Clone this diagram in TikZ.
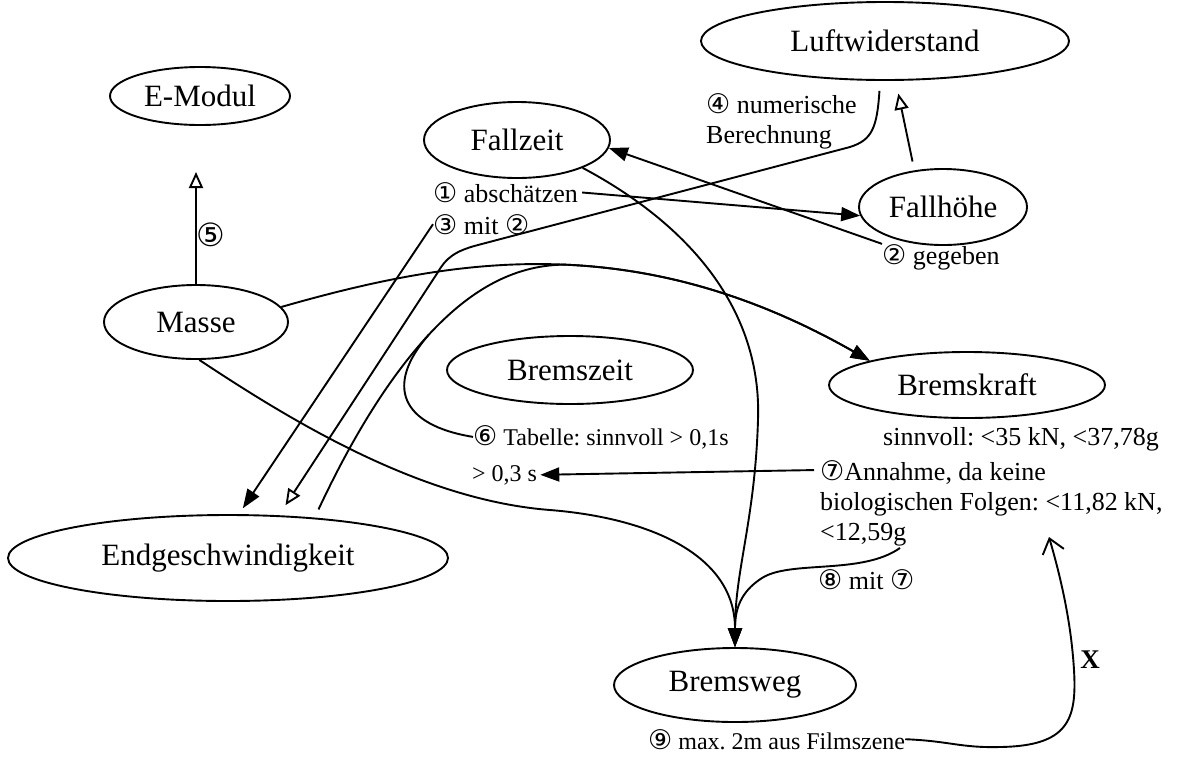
\documentclass[tikz,border=0pt]{standalone}
\usepackage{fontspec}
\setmainfont{Liberation Serif}
\newfontfamily\circf{DejaVu Sans}
\usetikzlibrary{arrows.meta,shapes.geometric,calc}
\newcommand\cnum[1]{{\fontsize{27}{27}\selectfont\circf #1}}
\frenchspacing
\begin{document}
\begin{tikzpicture}[x=1pt,y=-1pt,
  concept/.style={draw, ellipse, line width=1.9pt, inner sep=0pt, font=\fontsize{31}{36}\selectfont},
  note/.style={inner sep=0pt, font=\fontsize{26}{30}\selectfont, align=left},
  smallnote/.style={note, font=\fontsize{24}{30}\selectfont},
  conn/.style={line width=1.9pt},
  fa/.style={conn, -{Triangle[length=19pt,width=14pt]}},
  oa/.style={conn, -{Triangle[open,length=16pt,width=14pt]}},
  ba/.style={conn, -{Straight Barb[length=14pt,width=22pt]}}
]
\fill[white] (0,0) rectangle (1202,756);
\useasboundingbox (0,0) rectangle (1202,756);

% concepts
\node[concept, minimum width=368pt, minimum height=78pt] (luft) at (885,41) {Luftwiderstand};
\node[concept, minimum width=180pt, minimum height=58pt] (emodul) at (200,96) {E-Modul};
\node[concept, minimum width=186pt, minimum height=76pt] (fallzeit) at (517,140) {Fallzeit};
\node[concept, minimum width=168pt, minimum height=76pt] (fallhoehe) at (943,207) {Fallhöhe};
\node[concept, minimum width=184pt, minimum height=74pt] (masse) at (196,322) {Masse};
\node[concept, minimum width=246pt, minimum height=68pt] (bremszeit) at (570,370) {Bremszeit};
\node[concept, minimum width=276pt, minimum height=66pt] (bremskraft) at (967,385) {Bremskraft};
\node[concept, minimum width=440pt, minimum height=86pt] (endg) at (228,558) {Endgeschwindigkeit};
\node[concept, minimum width=242pt, minimum height=74pt] (bremsweg) at (735,685) {Bremsweg};

% notes
\node[note, anchor=north west] (t4) at (706,93) {\cnum{④} numerische\\Berechnung};
\node[note, anchor=base west] (t1) at (433,202) {\cnum{①} abschätzen};
\node[note, anchor=base west] (t3) at (433,234) {\cnum{③} mit \cnum{②}};
\node[note, anchor=base west] (t2) at (882,264) {\cnum{②} gegeben};
\node[inner sep=0pt, font=\fontsize{32}{32}\selectfont\circf] (t5) at (211,235) {⑤};
\node[smallnote, anchor=base west] (t6) at (473,445) {\cnum{⑥} Tabelle: sinnvoll > 0,1s};
\node[smallnote, anchor=base west] (t03) at (472,481) {> 0,3 s};
\node[note, anchor=base west] (tsinn) at (883,445) {sinnvoll: <35 kN, <37,78g};
\node[note, anchor=north west] (t7) at (820,460) {\cnum{⑦}Annahme, da keine\\biologischen Folgen: <11,82 kN,\\<12,59g};
\node[note, anchor=base west] (t8) at (818,589) {\cnum{⑧} mit \cnum{⑦}};
\node[smallnote, anchor=base west] (t9) at (648,749) {\cnum{⑨} max. 2m aus Filmszene};
\node[inner sep=0pt, font=\fontsize{27}{27}\selectfont\bfseries] (tx) at (1090,660) {X};

% coordinates
\coordinate (e5) at (196,172);
\coordinate (mb) at (564,264.6);
\coordinate (m6) at (428.4,335.1);
\coordinate (xtip) at (1049,537);

% connectors
\draw[oa] (masse.north) -- (e5);
\draw[fa, shorten <=4pt] (t1.east) -- (fallhoehe.186);
\draw[fa] (t2.north west) -- (fallzeit.355);
\draw[oa, shorten <=9pt, shorten >=13pt] (fallhoehe.128) -- (luft.-75);
\draw[fa] (fallzeit.337) .. controls (690,225) and (762,310) .. (758,420) .. controls (755,520) and (735,570) .. (bremsweg.north);
\draw[fa] (masse.-85) .. controls (290,420) and (420,500) .. (550,510) .. controls (650,518) and (735,555) .. (bremsweg.north);
\draw[fa] ($(t7.south west)+(80,2)$) .. controls (862,575) and (790,560) .. (762,578) .. controls (740,592) and (735,610) .. (bremsweg.north);
\draw[fa] (masse.10) .. controls (384,277.5) and (472,260.75) .. (mb) .. controls (655.5,268.5) and (751,293) .. (bremskraft.166);
\draw[fa, shorten <=9pt] (endg.25) .. controls (351.5,439) and (388.25,378.5) .. (m6) .. controls (468.5,291.65) and (512,265.3) .. (mb) .. controls (655.5,268.5) and (751,293) .. (bremskraft.166);
\draw[conn] (t6.west) .. controls (400,425) and (385,385) .. (m6);
\draw[fa, shorten >=7pt] (t3.west) -- (endg.76);
\draw[oa, shorten <=10pt, shorten >=12pt] (luft.-97) .. controls (877,128) and (872,140) .. (850,147) -- (478,245) .. controls (455,251) and (446,258) .. (438,272) -- (endg.40);
\draw[fa, shorten <=3pt, shorten >=3pt] ($(t7.north west)+(-3,10)$) -- (t03.east);
\draw[ba] (t9.east) .. controls (950,741) and (960,748) .. (1000,747) .. controls (1068,746) and (1077,720) .. (1074,670) .. controls (1071,620) and (1060,575) .. (xtip);
\end{tikzpicture}
\end{document}
